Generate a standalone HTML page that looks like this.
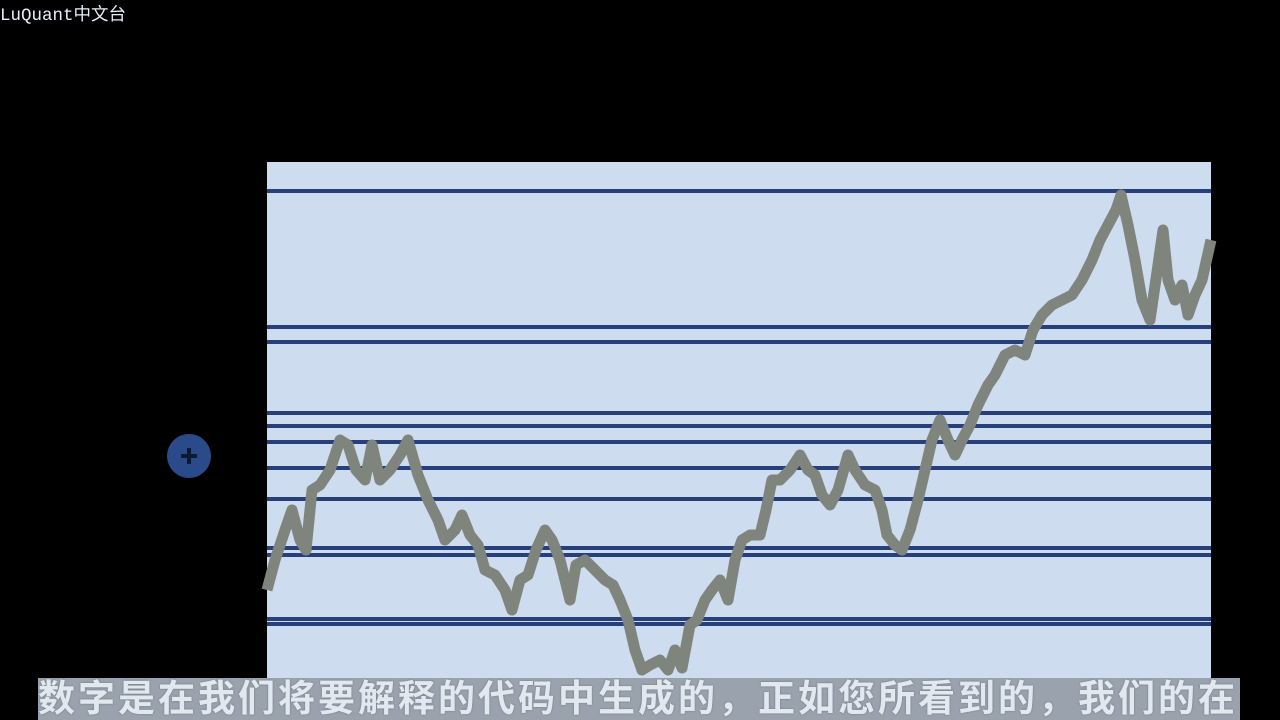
<!DOCTYPE html>
<html><head><meta charset="utf-8"><style>
html,body{margin:0;padding:0;background:#000;width:1280px;height:720px;overflow:hidden;position:relative;font-family:"Liberation Sans","Noto Sans CJK SC",sans-serif}
#brand{position:absolute;left:0;top:1px;color:#e8eef8;font-family:"Liberation Mono","Noto Sans CJK SC",monospace;font-size:17.5px}
#sub{position:absolute;left:38px;top:678px;width:1202px;height:42px;background:#9aa3ad;color:#e2e8f0;font-family:"Liberation Sans","Noto Sans CJK SC",sans-serif;font-size:37px;font-weight:bold;line-height:42px;white-space:nowrap;overflow:hidden;letter-spacing:3px;text-shadow:0 0 2px #6d7682}
</style></head><body>
<div id="brand">LuQuant中文台</div>
<svg id="chart" width="1280" height="720" style="position:absolute;left:0;top:0">
<rect x="267" y="162" width="944" height="516" fill="#cddcee"/>
<g id="levels"></g><g id="series"></g>
<g><circle cx="189" cy="456" r="22" fill="#2b4a8a"/><path d="M181 456h16M189 448v16" stroke="#0e1a33" stroke-width="4"/></g>
</svg>
<div id="sub">数字是在我们将要解释的代码中生成的，正如您所看到的，我们的在</div>
<script>
const days=[0,8,18,25,33,39,45,53,63,73,81,89,98,105,113,123,133,141,151,161,171,178,188,195,203,211,218,228,238,245,253,261,269,278,285,293,303,309,318,328,338,346,353,361,368,375,383,393,401,408,415,423,430,438,445,453,461,468,475,483,493,499,505,513,523,533,541,548,555,563,571,581,588,598,608,615,620,628,635,643,651,658,665,673,681,688,695,703,711,721,728,738,748,758,766,775,785,795,805,815,825,833,841,849,854,861,868,875,883,891,896,901,908,915,921,928,935,944];
const prices=[17.6,23.6,29.6,33.6,27.6,25.6,37.6,38.6,41.6,47.6,46.6,41.6,39.6,46.6,39.6,41.6,44.6,47.6,40.6,35.6,31.6,27.6,29.6,32.6,28.6,26.6,21.6,20.6,17.6,13.6,19.6,20.6,25.6,29.6,27.6,23.6,15.6,22.6,23.6,21.6,19.6,18.6,15.6,11.6,5.6,1.6,2.6,3.6,1.6,5.6,2.0,10.6,11.6,15.6,17.6,19.6,15.6,23.6,27.6,28.6,28.6,33.6,39.6,39.6,41.6,44.6,41.6,40.6,36.6,34.6,37.6,44.6,41.6,38.6,37.6,33.6,28.6,26.6,25.6,29.6,35.6,41.6,47.6,51.6,47.6,44.6,47.6,50.6,54.6,58.6,60.6,64.6,65.6,64.6,69.6,72.6,74.6,75.6,76.6,79.6,83.6,87.6,90.6,93.6,96.6,90.6,83.6,75.6,71.6,82.6,89.6,79.6,75.6,78.6,72.6,76.6,79.6,87.6];
const levels=[97.4,70.2,67.2,53,50.4,47.2,42,35.8,26,24.6,11.8,10.8];
const X0=267,X1=1211,Y0=678,Y1=162,DMAX=944,PMIN=0,PMAX=103.2;
const xs=d=>X0+(d/DMAX)*(X1-X0);
const ys=p=>Y0-(p-PMIN)/(PMAX-PMIN)*(Y0-Y1);
const NS="http://www.w3.org/2000/svg";
const lg=document.getElementById('levels');
levels.forEach(v=>{
 const l=document.createElementNS(NS,'line');
 l.setAttribute('x1',X0);l.setAttribute('x2',X1);l.setAttribute('y1',ys(v));l.setAttribute('y2',ys(v));
 l.setAttribute('stroke','#27407a');l.setAttribute('stroke-width','4');
 
 
 lg.appendChild(l);
});
const p=document.createElementNS(NS,'polyline');
p.setAttribute('points',days.map((d,i)=>xs(d)+','+ys(prices[i])).join(' '));
p.setAttribute('fill','none');p.setAttribute('stroke','#7f847c');p.setAttribute('stroke-width','11');p.setAttribute('stroke-linejoin','round');


document.getElementById('series').appendChild(p);
</script>
</body></html>
